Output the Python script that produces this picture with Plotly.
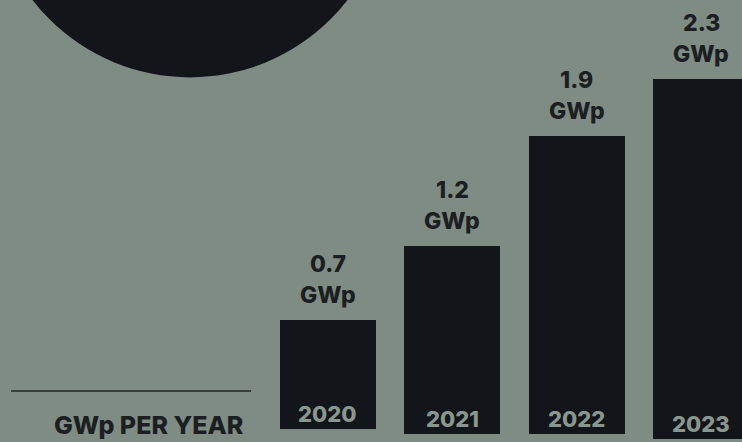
import plotly.graph_objects as go

# ---- data ----
years = [2020, 2021, 2022, 2023]
capacity_gwp = [0.7, 1.2, 1.9, 2.3]
value_labels = ["0.7", "1.2", "1.9", "2.3"]
unit_label = "GWp"
year_labels = ["2020", "2021", "2022", "2023"]
base_offsets = [0.03, 0.0, 0.0, -0.035]   # slight baseline stagger of the original artwork
axis_title = "GWp PER YEAR"

# ---- style ----
W, H = 742, 442
BG = "#7f8c83"
BAR = "#121519"
DARK_TXT = "#1b1f22"
YEAR_TXT = "#8a978f"
FONT = "Inter"
WEIGHT = 800

fig = go.Figure()
fig.add_trace(go.Bar(
    x=years,
    y=capacity_gwp,
    base=base_offsets,
    width=0.77,
    marker=dict(color=BAR, line=dict(width=0)),
    hoverinfo="skip",
    cliponaxis=True,
))

annotations = []
for yr, v, b, vl, ylab in zip(years, capacity_gwp, base_offsets, value_labels, year_labels):
    top = v + b
    annotations.append(dict(x=yr, y=top, xref="x", yref="y", text=vl,
                            showarrow=False, yanchor="middle", xanchor="center", yshift=56,
                            font=dict(family=FONT, size=23, weight=WEIGHT, color=DARK_TXT)))
    annotations.append(dict(x=yr, y=top, xref="x", yref="y", text=unit_label,
                            showarrow=False, yanchor="middle", xanchor="center", yshift=25,
                            font=dict(family=FONT, size=23, weight=WEIGHT, color=DARK_TXT)))
    annotations.append(dict(x=yr, y=b, xref="x", yref="y", text=ylab,
                            showarrow=False, yanchor="middle", xanchor="center", yshift=15,
                            font=dict(family=FONT, size=22, weight=WEIGHT, color=YEAR_TXT)))

annotations.append(dict(x=246 / W, y=1 - 425 / H, xref="paper", yref="paper",
                        text=axis_title, showarrow=False,
                        xanchor="right", yanchor="middle",
                        font=dict(family=FONT, size=25, weight=WEIGHT, color=DARK_TXT)))

shapes = [
    # big dark circle at top-left
    dict(type="circle", xref="paper", yref="paper",
         x0=(190 - 199) / W, x1=(190 + 199) / W,
         y0=1 - (-121.6 + 199) / H, y1=1 - (-121.6 - 199) / H,
         fillcolor=BAR, line=dict(width=0), layer="below"),
    # rule above the axis title
    dict(type="line", xref="paper", yref="paper",
         x0=11 / W, x1=251 / W, y0=1 - 391 / H, y1=1 - 391 / H,
         line=dict(color="#39403b", width=2)),
]

k = 156.8  # px per GWp
fig.update_layout(
    width=W, height=H,
    margin=dict(l=0, r=0, t=0, b=0, pad=0),
    paper_bgcolor=BG, plot_bgcolor=BG,
    showlegend=False,
    xaxis=dict(range=[2020 - 327.6 / 124.6, 2020 + (W - 327.6) / 124.6],
               visible=False, fixedrange=True),
    yaxis=dict(range=[-(H - 434) / k, 434 / k], visible=False, fixedrange=True),
    annotations=annotations,
    shapes=shapes,
    bargap=0,
)

fig.write_html(
    "out.html",
    config={"displayModeBar": False, "staticPlot": True},
    post_script="document.body.style.margin='0px';document.body.style.overflow='hidden';",
)
